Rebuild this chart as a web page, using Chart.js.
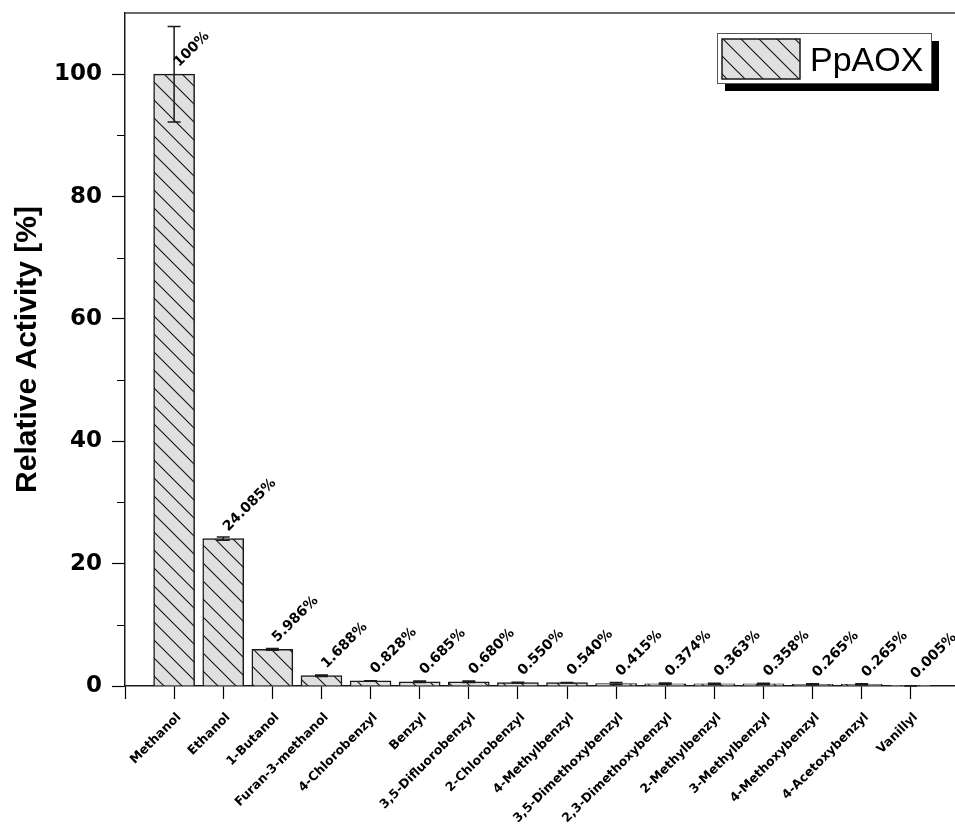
<!DOCTYPE html>
<html>
<head>
<meta charset="utf-8">
<script src="https://cdn.jsdelivr.net/npm/chart.js@4/dist/chart.umd.min.js"></script>
<style>
  html, body { margin: 0; padding: 0; background: #ffffff; }
  #wrap { width: 955px; height: 825px; position: relative; }
</style>
</head>
<body>
<div id="wrap"><canvas id="c" width="955" height="825"></canvas></div>
<script>
const categories = ['Methanol', 'Ethanol', '1-Butanol', 'Furan-3-methanol', '4-Chlorobenzyl', 'Benzyl',
  '3,5-Difluorobenzyl', '2-Chlorobenzyl', '4-Methylbenzyl', '3,5-Dimethoxybenzyl', '2,3-Dimethoxybenzyl',
  '2-Methylbenzyl', '3-Methylbenzyl', '4-Methoxybenzyl', '4-Acetoxybenzyl', 'Vanillyl'];
const activity = [100, 24.085, 5.986, 1.688, 0.828, 0.685, 0.680, 0.550, 0.540, 0.415, 0.374, 0.363, 0.358, 0.265, 0.265, 0.005];
const activityErr = [7.8, 0.25, 0.15, 0.12, 0.05, 0.12, 0.12, 0.05, 0.05, 0.15, 0.1, 0.1, 0.1, 0.1, 0.1, 0.02];
const valueLabels = ['100%', '24.085%', '5.986%', '1.688%', '0.828%', '0.685%', '0.680%', '0.550%', '0.540%',
  '0.415%', '0.374%', '0.363%', '0.358%', '0.265%', '0.265%', '0.005%'];
const yTicks = [0, 10, 20, 30, 40, 50, 60, 70, 80, 90, 100];
const seriesName = 'PpAOX';

function makeHatch() {
  const s = 18;
  const c = document.createElement('canvas');
  c.width = s; c.height = s;
  const g = c.getContext('2d');
  g.fillStyle = '#e0e0e0';
  g.fillRect(0, 0, s, s);
  g.strokeStyle = '#1a1a1a';
  g.lineWidth = 1.2;
  g.beginPath();
  g.moveTo(-2, -2); g.lineTo(s + 2, s + 2);
  g.moveTo(-2, s - 2); g.lineTo(2, s + 2);
  g.moveTo(s - 2, -2); g.lineTo(s + 2, 2);
  g.stroke();
  return c;
}
const hatchCanvas = makeHatch();
const ctx0 = document.getElementById('c').getContext('2d');
const hatch = ctx0.createPattern(hatchCanvas, 'repeat');

const points = activity.map((v, i) => ({ x: i + 1, y: v }));

const extrasPlugin = {
  id: 'extras',
  afterDatasetsDraw(chart) {
    const ctx = chart.ctx;
    const ys = chart.scales.y;
    const area = chart.chartArea;
    const meta = chart.getDatasetMeta(0);
    ctx.save();
    // error bars
    ctx.strokeStyle = '#1a1a1a';
    ctx.lineWidth = 1.5;
    meta.data.forEach((bar, i) => {
      const v = activity[i], e = activityErr[i];
      const yTop = ys.getPixelForValue(v + e);
      const yBot = ys.getPixelForValue(Math.max(v - e, 0));
      const x = bar.x;
      ctx.beginPath();
      ctx.moveTo(x, yTop); ctx.lineTo(x, yBot);
      ctx.moveTo(x - 6.5, yTop); ctx.lineTo(x + 6.5, yTop);
      ctx.moveTo(x - 6.5, yBot); ctx.lineTo(x + 6.5, yBot);
      ctx.stroke();
    });
    // value labels
    ctx.fillStyle = '#000';
    ctx.font = 'bold 14px "DejaVu Sans"';
    ctx.textAlign = 'left';
    ctx.textBaseline = 'alphabetic';
    meta.data.forEach((bar, i) => {
      ctx.save();
      ctx.translate(bar.x + 5, bar.y - 7);
      ctx.rotate(-Math.PI / 4);
      ctx.fillText(valueLabels[i], 0, 0);
      ctx.restore();
    });
    // top frame line
    ctx.strokeStyle = '#3a3a3a';
    ctx.lineWidth = 1.5;
    ctx.beginPath();
    ctx.moveTo(area.left, area.top);
    ctx.lineTo(area.right, area.top);
    ctx.stroke();
    // minor y ticks
    ctx.strokeStyle = '#000';
    ctx.lineWidth = 1;
    yTicks.forEach(t => {
      if (t % 20 !== 0) {
        const y = Math.round(ys.getPixelForValue(t)) + 0.5;
        ctx.beginPath();
        ctx.moveTo(area.left - 8, y);
        ctx.lineTo(area.left, y);
        ctx.stroke();
      }
    });
    // legend
    const bx = area.right - 238, by = area.top + 20, bw = 214, bh = 50;
    ctx.fillStyle = '#000';
    ctx.fillRect(bx + 8, by + 8, bw, bh);
    ctx.fillStyle = '#fff';
    ctx.fillRect(bx, by, bw, bh);
    ctx.strokeStyle = '#555';
    ctx.lineWidth = 1;
    ctx.strokeRect(bx + 0.5, by + 0.5, bw, bh);
    ctx.fillStyle = hatch;
    ctx.fillRect(bx + 5, by + 6, 78, 40);
    ctx.strokeStyle = '#1a1a1a';
    ctx.lineWidth = 1.5;
    ctx.strokeRect(bx + 5, by + 6, 78, 40);
    ctx.fillStyle = '#000';
    ctx.font = '34px "Liberation Sans"';
    ctx.textAlign = 'left';
    ctx.textBaseline = 'alphabetic';
    ctx.fillText(chart.data.datasets[0].label, bx + 93, by + 38);
    ctx.restore();
  }
};

new Chart(ctx0, {
  type: 'bar',
  data: {
    datasets: [{
      label: seriesName,
      data: points,
      backgroundColor: hatch,
      borderColor: '#1a1a1a',
      borderWidth: 1.5,
      barThickness: 41
    }]
  },
  options: {
    responsive: false,
    animation: false,
    events: [],
    layout: { padding: { top: 13, right: 0, left: 0, bottom: 0 } },
    plugins: { legend: { display: false }, tooltip: { enabled: false } },
    scales: {
      x: {
        type: 'linear',
        min: 0,
        max: 16.9,
        offset: false,
        afterBuildTicks(scale) {
          scale.ticks = [{ value: 0 }].concat(categories.map((c, i) => ({ value: i + 1 })));
        },
        afterFit(scale) { scale.height = 139; scale.paddingLeft = 0; scale.paddingRight = 0; },
        ticks: {
          autoSkip: false,
          minRotation: 45,
          maxRotation: 45,
          padding: 11,
          labelOffset: 5,
          color: '#000',
          font: { family: 'DejaVu Sans', weight: 'bold', size: 12.5 },
          callback(v) { return (v >= 1 && v <= categories.length) ? categories[v - 1] : ''; }
        },
        grid: { offset: false, drawOnChartArea: false, drawTicks: true, tickLength: 13, tickColor: '#000', tickWidth: 1.2 },
        border: { display: true, color: '#1a1a1a', width: 1.5 }
      },
      y: {
        min: 0,
        max: 110,
        afterBuildTicks(scale) { scale.ticks = yTicks.map(v => ({ value: v })); },
        afterFit(scale) { scale.width = 125; scale.paddingTop = 0; scale.paddingBottom = 0; },
        ticks: {
          padding: 10,
          color: '#000',
          font: { family: 'DejaVu Sans', weight: 'bold', size: 23 },
          callback(v) { return v % 20 === 0 ? String(v) : ''; }
        },
        grid: {
          drawOnChartArea: false, drawTicks: true, tickLength: 13, tickWidth: 1.2,
          tickColor(c) { return (c.tick && c.tick.value % 20 === 0) ? '#000' : 'rgba(0,0,0,0)'; }
        },
        border: { display: true, color: '#1a1a1a', width: 1.5 },
        title: {
          display: true,
          text: 'Relative Activity [%]',
          color: '#000',
          font: { family: 'Liberation Sans', weight: 'bold', size: 30 },
          padding: { top: 10, bottom: 0 }
        }
      }
    }
  },
  plugins: [extrasPlugin]
});
</script>
</body>
</html>
